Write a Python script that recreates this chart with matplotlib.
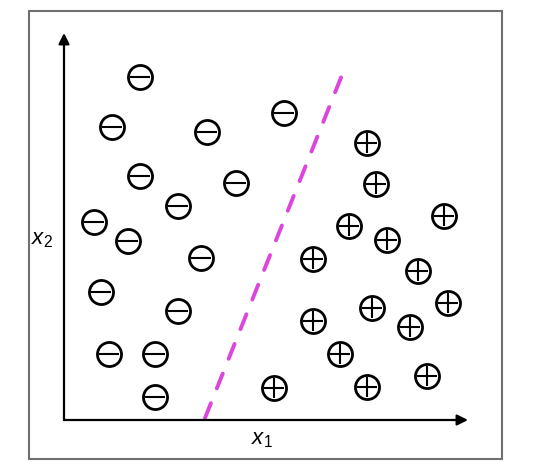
import matplotlib.pyplot as plt

plt.rcParams['mathtext.fontset'] = 'custom'
plt.rcParams['mathtext.it'] = 'Liberation Sans:italic'
plt.rcParams['mathtext.rm'] = 'Liberation Sans'

# negative class samples
neg_x1 = [1.9, 1.2, 3.575, 5.5, 1.9, 4.3, 2.85, 0.75, 1.6, 3.425, 0.925, 2.85, 1.125, 2.275, 2.275]
neg_x2 = [8.575, 7.325, 7.2, 7.675, 6.1, 5.925, 5.35, 4.95, 4.475, 4.05, 3.2, 2.725, 1.65, 1.65, 0.575]

# positive class samples
pos_x1 = [7.575, 7.8, 9.5, 7.125, 8.075, 6.225, 8.85, 9.6, 7.7, 6.225, 8.65, 6.9, 9.075, 7.575, 5.25]
pos_x2 = [6.925, 5.9, 5.1, 4.85, 4.5, 4.025, 3.725, 2.925, 2.8, 2.475, 2.325, 1.65, 1.1, 0.825, 0.8]

# decision boundary end points
bound_x1 = [3.525, 7.0]
bound_x2 = [0.05, 8.75]

fig = plt.figure(figsize=(5.56, 4.76), dpi=100)
ax = fig.add_axes([0, 0, 1, 1])
ax.set_xlim(-1.6, 12.3)
ax.set_ylim(-1.4, 10.5)
ax.axis('off')

# frame around the figure
ax.add_patch(plt.Rectangle((-0.875, -0.975), 11.825, 11.2, fill=False,
                           edgecolor='#707070', lw=1.5))

# axis arrows
arrow = dict(arrowstyle='-|>', color='black', lw=1.6, mutation_scale=16, shrinkA=0, shrinkB=0)
ax.annotate('', xy=(10.1, 0), xytext=(0, 0), arrowprops=arrow)
ax.annotate('', xy=(0, 9.675), xytext=(0, 0), arrowprops=arrow)

ax.text(4.95, -0.5, '$x_1$', fontsize=16, ha='center', va='center')
ax.text(-0.55, 4.5, '$x_2$', fontsize=16, ha='center', va='center')

# boundary
line, = ax.plot(bound_x1, bound_x2, color='#dc46dc', lw=2.8,
                dash_capstyle='round')
line.set_dashes((4.1, 4.1))

# samples
ax.scatter(neg_x1, neg_x2, s=300, facecolor='white', edgecolor='black', linewidths=2.0, zorder=3)
ax.scatter(neg_x1, neg_x2, s=190, marker='_', color='black', linewidths=1.5, zorder=4)
ax.scatter(pos_x1, pos_x2, s=300, facecolor='white', edgecolor='black', linewidths=2.0, zorder=3)
ax.scatter(pos_x1, pos_x2, s=190, marker='+', color='black', linewidths=1.5, zorder=4)

fig.savefig('out.png', dpi=100)
